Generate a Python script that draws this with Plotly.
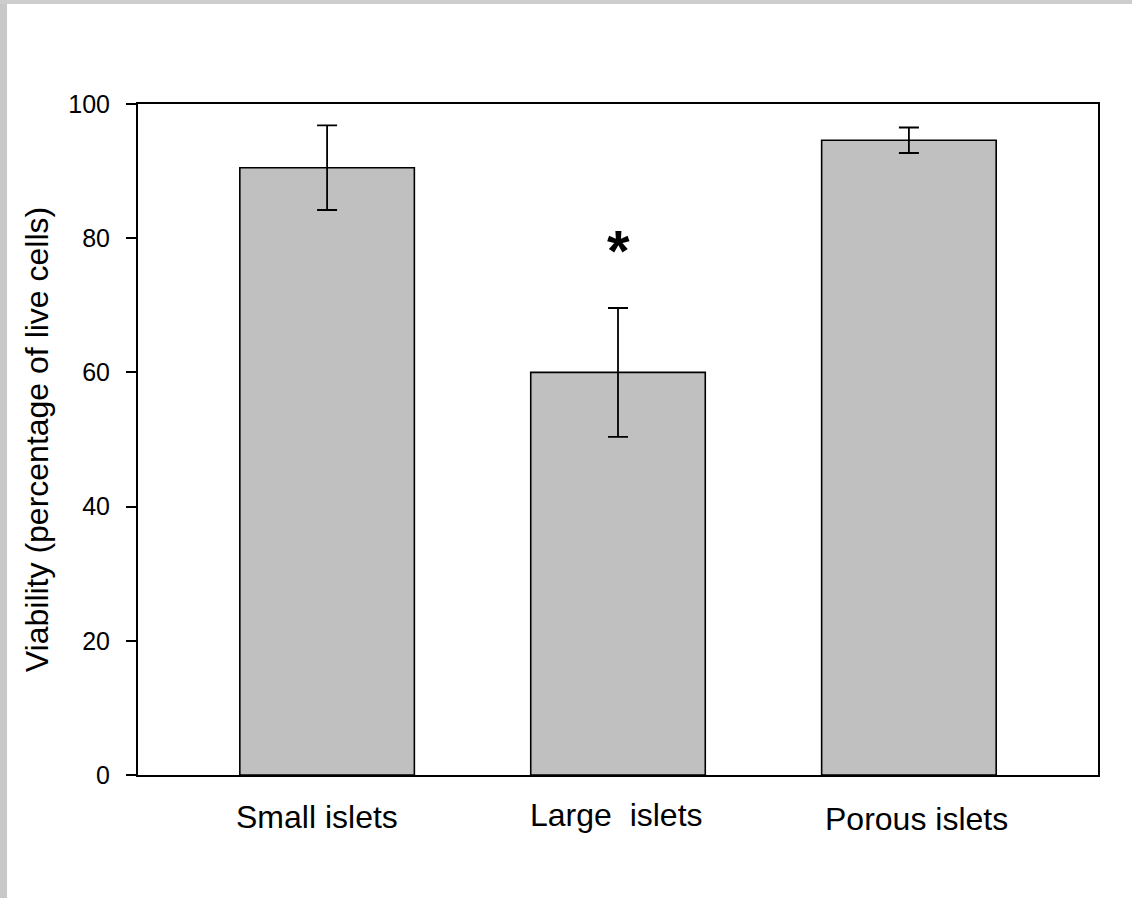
import plotly.graph_objects as go

categories = ["Small islets", "Large  islets", "Porous islets"]
viability = [90.5, 60.0, 94.6]
errors = [6.3, 9.6, 1.9]
y_ticks = [0, 20, 40, 60, 80, 100]
signif_label = "*"
signif_value = 80
label_shifts = [-10, -2, 8]
label_drops = [-22, -20, -24]

FONT = "Arial, Liberation Sans, sans-serif"

fig = go.Figure()
fig.add_trace(go.Bar(
    x=list(range(len(categories))),
    y=viability,
    width=0.6,
    marker=dict(color="#c0c0c0", line=dict(color="black", width=1.6)),
    error_y=dict(type="data", array=errors, visible=True, color="black",
                 thickness=1.8, width=10),
    showlegend=False,
))

annotations = []
for i, (cat, dx, dy) in enumerate(zip(categories, label_shifts, label_drops)):
    annotations.append(dict(
        x=i, y=0, xref="x", yref="y", text=cat, showarrow=False,
        xanchor="center", yanchor="top", yshift=dy, xshift=dx,
        font=dict(family=FONT, size=32, color="black"),
    ))
annotations.append(dict(
    x=1, y=signif_value, xref="x", yref="y", text="<b>" + signif_label + "</b>",
    showarrow=False, xanchor="center", yanchor="middle", yshift=-12,
    font=dict(family=FONT, size=58, color="black"),
))

shapes = [
    dict(type="rect", xref="paper", yref="paper",
         x0=-0.15, x1=(7 - 138) / 960, y0=-0.2, y1=1.2,
         fillcolor="#c8c8c8", line=dict(width=0), layer="above"),
    dict(type="rect", xref="paper", yref="paper",
         x0=-0.15, x1=1.05, y0=(775 - 4) / 671, y1=1.2,
         fillcolor="#cdcdcd", line=dict(width=0), layer="above"),
]

fig.update_layout(
    width=1132, height=898,
    margin=dict(l=138, r=34, t=104, b=123, pad=0),
    paper_bgcolor="white", plot_bgcolor="white",
    font=dict(family=FONT, size=25, color="black"),
    annotations=annotations,
    shapes=shapes,
    xaxis=dict(range=[-0.65, 2.65], showticklabels=False, ticks="",
               showline=True, mirror=True, linecolor="black", linewidth=2,
               showgrid=False, zeroline=False, fixedrange=True),
    yaxis=dict(range=[0, 100], tickvals=y_ticks, ticks="outside", ticklen=10,
               tickwidth=2, tickcolor="black", ticklabelstandoff=11,
               showline=True, mirror=True, linecolor="black", linewidth=2,
               showgrid=False, zeroline=False,
               tickfont=dict(family=FONT, size=25, color="black"),
               title=dict(text="Viability (percentage of live cells)",
                          font=dict(family=FONT, size=32, color="black"),
                          standoff=10)),
)

fig.write_html("out.html")
